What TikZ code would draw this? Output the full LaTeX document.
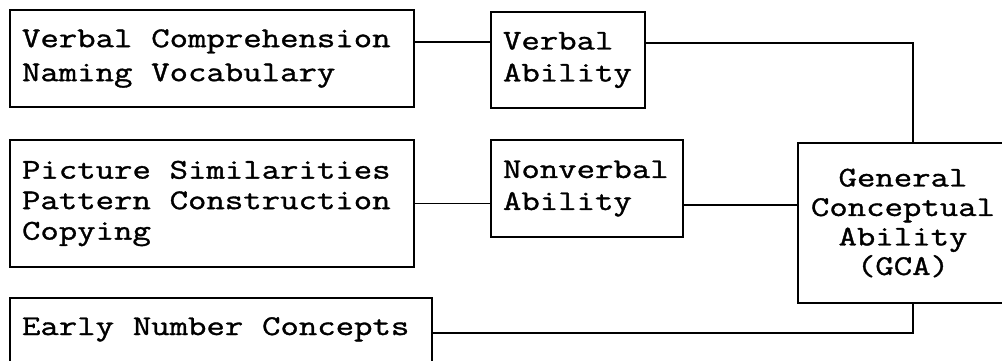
\documentclass[tikz,border=0pt]{standalone}
\usepackage{fontspec}
\setmonofont{Latin Modern Mono}[FakeStretch=1.25, FakeBold=1.2]
% one character cell of the stretched mono face: 28.6pt x 0.525 x 1.25
\newcommand\labelfont[1]{\ttfamily\fontsize{28.6}{#1}\selectfont
  \spaceskip=18.77pt\relax\xspaceskip=18.77pt\relax}
\begin{document}
\begin{tikzpicture}[x=1pt,y=-1pt,
  box/.style={draw, line width=1.6pt, rectangle, inner xsep=12pt, inner ysep=0pt,
    font=\labelfont{32}},
  leftbox/.style={box, align=flush left},
  wire/.style={line width=1.6pt}]
\useasboundingbox (0,0) rectangle (1002,360);
\clip (0,0) rectangle (1002,360);

% subtest groups
\node[leftbox, text width=380pt, minimum height=97pt, font=\labelfont{34}]
  (vc) at (212,58.5) {Verbal Comprehension\\Naming Vocabulary};
\node[leftbox, text width=380pt, minimum height=127pt, font=\labelfont{30.5}]
  (ps) at (212,203.5) {Picture Similarities\\Pattern Construction\\Copying};
\node[leftbox, text width=398pt, text height=37pt, text depth=40pt, anchor=base]
  (en) at (221,335) {Early Number Concepts};

% cluster scores
\node[leftbox, text width=130pt, minimum height=96pt]
  (va) at (568,60) {Verbal\\Ability};
\node[leftbox, text width=168pt, minimum height=97pt]
  (nv) at (587,188.5) {Nonverbal\\Ability};

% composite
\node[box, align=flush center, minimum width=210pt, minimum height=160pt, font=\labelfont{29.5}]
  (gca) at (903,223) {General\\Conceptual\\Ability\\(GCA)};

% connectors
\draw[wire] ([yshift=-33pt]vc.north east) -- ([yshift=-33pt]vc.north east -| va.west);
\draw[wire] ([yshift=-32pt]va.north east) -| ([xshift=10pt]gca.north);
\draw[wire] (ps.east) -- (ps.east -| nv.west);
\draw[wire] ([yshift=-16.5pt]nv.east) -- ([yshift=-16.5pt]nv.east -| gca.west);
\draw[wire] ([yshift=-36pt]en.north east) -| ([xshift=10pt]gca.south);
\end{tikzpicture}
\end{document}
